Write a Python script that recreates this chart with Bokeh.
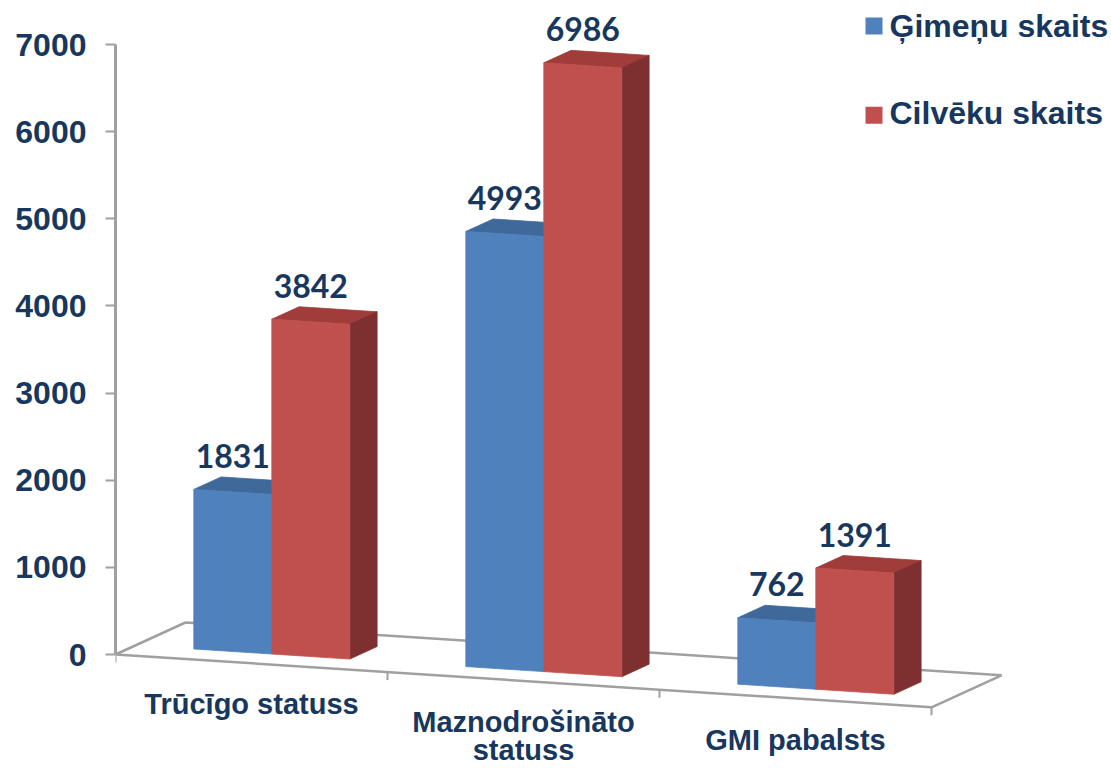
from bokeh.plotting import figure
from bokeh.models import Range1d, LinearAxis, FixedTicker
from bokeh.embed import file_html
from bokeh.resources import INLINE
from bokeh.core.properties import value

# ---------------- data ----------------
categories = ["Trūcīgo statuss", "Maznodrošināto\nstatuss", "GMI pabalsts"]
series_names = ["Ģimeņu skaits", "Cilvēku skaits"]
gimenu_skaits = [1831, 4993, 762]
cilveku_skaits = [3842, 6986, 1391]
y_ticks = [0, 1000, 2000, 3000, 4000, 5000, 6000, 7000]

# ---------------- styling / layout ----------------
NAVY = "#17375E"
GRAY = "#A0A0A0"
face_colors = {
    0: dict(front="#4F81BD", top="#3F689B", side="#345A87"),
    1: dict(front="#C0504D", top="#A03C39", side="#7D302F"),
}

W, H = 1111, 768
PX = 610.0 / 7000.0          # screen px per value unit
CAT_PX = 272.0               # screen px per category along the front edge
FRAME_LEFT = 115
Y0_CANVAS = 654              # canvas y of value 0 at the axis
Y7_CANVAS = 44               # canvas y of value 7000

DX = 70.0 / CAT_PX           # floor depth, x component (category units)
DY = 32.0 / PX               # floor depth, y component (value units)
SLOPE = 17.6 / PX            # floor drop per category (value units)
GAP = 58.0 / CAT_PX          # gap between category edge and first bar
BW = 78.0 / CAT_PX           # bar width
D_FRONT, D_BACK = 0.29, 0.68 # bar depth fractions


def proj(u, d, v):
    return u + DX * d, v - SLOPE * u + DY * d


def base_fix(size_px):
    # lift text so its alphabetic baseline lands where intended
    return 0.34 * size_px / PX


x_end = (W - FRAME_LEFT) / CAT_PX
y_start = -(H - Y0_CANVAS) / PX
y_end = 7000 + Y7_CANVAS / PX

p = figure(width=W, height=H, x_range=Range1d(0, x_end), y_range=Range1d(y_start, y_end),
           output_backend="svg", toolbar_location=None,
           x_axis_location=None, y_axis_location=None,
           min_border_left=FRAME_LEFT, min_border_right=0,
           min_border_top=0, min_border_bottom=0)
p.outline_line_color = None
p.background_fill_color = "white"
p.border_fill_color = "white"
p.grid.visible = False

# y axis
ax = LinearAxis(ticker=FixedTicker(ticks=y_ticks), bounds=(0, 7000))
ax.axis_line_color = GRAY
ax.axis_line_width = 3
ax.major_tick_line_color = GRAY
ax.major_tick_line_width = 2
ax.major_tick_in = 0
ax.major_tick_out = 10
ax.minor_tick_line_color = None
ax.major_label_standoff = 19
ax.major_label_text_font = "Liberation Sans"
ax.major_label_text_font_style = "bold"
ax.major_label_text_font_size = "32px"
ax.major_label_text_color = NAVY
p.add_layout(ax, "left")

# floor
n = len(categories)
fx, fy = zip(*[proj(0, 0, 0), proj(n, 0, 0), proj(n, 1, 0), proj(0, 1, 0), proj(0, 0, 0)])
p.line(list(fx), list(fy), line_color=GRAY, line_width=2.5)
tx, ty = zip(*[proj(i, 0, 0) for i in range(n + 1)])
p.segment(x0=list(tx), y0=list(ty), x1=list(tx), y1=[y - 8 / PX for y in ty],
          line_color=GRAY, line_width=2)

# bars
for s, vals in enumerate([gimenu_skaits, cilveku_skaits]):
    faces = {"top": ([], []), "side": ([], []), "front": ([], [])}
    lx, ly, lt = [], [], []
    for i, v in enumerate(vals):
        u0 = i + GAP + s * BW
        u1 = u0 + BW
        quads = {
            "front": [(u0, D_FRONT, 0), (u1, D_FRONT, 0), (u1, D_FRONT, v), (u0, D_FRONT, v)],
            "side": [(u1, D_FRONT, 0), (u1, D_BACK, 0), (u1, D_BACK, v), (u1, D_FRONT, v)],
            "top": [(u0, D_FRONT, v), (u1, D_FRONT, v), (u1, D_BACK, v), (u0, D_BACK, v)],
        }
        for k, q in quads.items():
            xs, ys = zip(*[proj(*c) for c in q])
            faces[k][0].append(list(xs))
            faces[k][1].append(list(ys))
        cx, cy = proj((u0 + u1) / 2, D_FRONT, v)
        lx.append(cx)
        ly.append(cy + 25 / PX + base_fix(32))
        lt.append(str(v))
    for k in ["top", "side", "front"]:
        col = face_colors[s][k]
        p.patches(faces[k][0], faces[k][1], fill_color=col, line_color=col, line_width=0.8)
    p.text(x=lx, y=ly, text=lt, text_align="center", text_baseline="alphabetic",
           text_font=value("Lato"), text_font_style="bold", text_font_size="32px",
           text_color=NAVY)

# category labels
cx, cy, ct = [], [], []
for i, c in enumerate(categories):
    bx, by = proj(i + 0.5, 0, 0)
    for j, line in enumerate(c.split("\n")):
        cx.append(bx)
        cy.append(by - 51 / PX - j * 28 / PX + base_fix(29))
        ct.append(line)
p.text(x=cx, y=cy, text=ct, text_align="center", text_baseline="alphabetic",
       text_font=value("Liberation Sans"), text_font_style="bold", text_font_size="29px",
       text_color=NAVY)


# legend (screen-positioned)
def sx(px):
    return (px - FRAME_LEFT) / CAT_PX


def sy(py):
    return (Y0_CANVAS - py) / PX


leg_y_sq = [25.5, 114.8]
leg_y_txt = [36, 123]
p.rect(x=[sx(873.5)] * 2, y=[sy(v) for v in leg_y_sq], width=17, height=17,
       width_units="screen", height_units="screen",
       fill_color=[face_colors[0]["front"], face_colors[1]["front"]], line_color=None)
p.text(x=[sx(889)] * 2, y=[sy(v) + base_fix(32) for v in leg_y_txt], text=series_names,
       text_align="left", text_baseline="alphabetic",
       text_font=value("Liberation Sans"), text_font_style="bold", text_font_size="32px",
       text_color=NAVY)

open("out.html", "w").write(file_html(p, INLINE))
